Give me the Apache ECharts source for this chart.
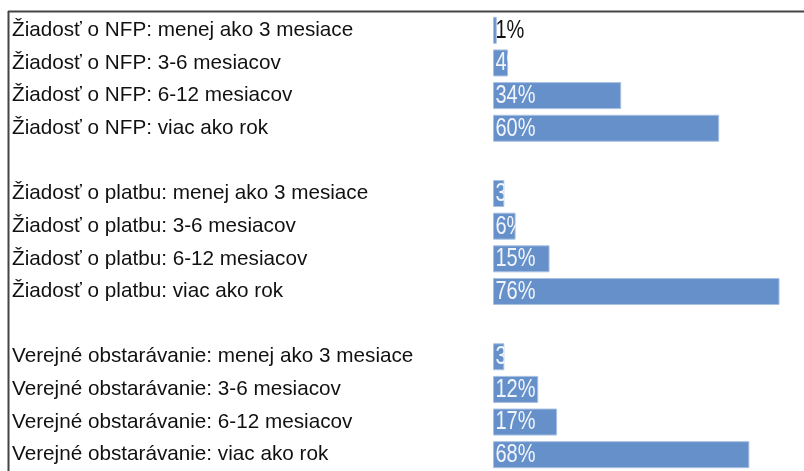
<!DOCTYPE html>
<html><head><meta charset="utf-8">
<script src="https://cdn.jsdelivr.net/npm/echarts@6/dist/echarts.min.js"></script>
<style>html,body{margin:0;padding:0;background:#fff}#c{width:804px;height:471px}</style>
</head><body><div id="c"></div>
<script>
const categories = [
  'Žiadosť o NFP: menej ako 3 mesiace',
  'Žiadosť o NFP: 3-6 mesiacov',
  'Žiadosť o NFP: 6-12 mesiacov',
  'Žiadosť o NFP: viac ako rok',
  '',
  'Žiadosť o platbu: menej ako 3 mesiace',
  'Žiadosť o platbu: 3-6 mesiacov',
  'Žiadosť o platbu: 6-12 mesiacov',
  'Žiadosť o platbu: viac ako rok',
  ' ',
  'Verejné obstarávanie: menej ako 3 mesiace',
  'Verejné obstarávanie: 3-6 mesiacov',
  'Verejné obstarávanie: 6-12 mesiacov',
  'Verejné obstarávanie: viac ako rok'
];
const values = [1, 4, 34, 60, null, 3, 6, 15, 76, null, 3, 12, 17, 68];
const outsideLabelIndex = [0];

const chart = echarts.init(document.getElementById('c'), null, {renderer: 'canvas'});
const FAMILY = '"Liberation Sans", Arial, sans-serif';
const BAR_H = 27;
const LABEL_SX = 0.8;
const LABEL_PAD = 2.5;

const labelData = [];
values.forEach((v, i) => { if (v !== null) labelData.push([v, i]); });

const option = {
  animation: false,
  grid: {left: 493, right: 9.4, top: 14, bottom: -5, containLabel: false},
  xAxis: {type: 'value', min: 0, max: 80, show: false},
  yAxis: {
    type: 'category', data: categories, inverse: true,
    axisLine: {show: false}, axisTick: {show: false}, splitLine: {show: false},
    axisLabel: {
      align: 'left', margin: 481, color: '#111',
      fontFamily: FAMILY, fontSize: 20.7
    }
  },
  series: [{
    type: 'bar', barWidth: BAR_H, z: 2,
    data: values.map(v => v === null ? '-' : v),
    itemStyle: {color: '#6690c9', borderColor: '#a9c1e3', borderWidth: 1},
    label: {show: false}
  }, {
    type: 'custom', z: 5,
    data: labelData,
    encode: {x: 0, y: 1},
    clip: false,
    renderItem: function (params, api) {
      const v = api.value(0);
      const idx = api.value(1);
      const start = api.coord([0, idx]);
      const end = api.coord([v, idx]);
      const outside = outsideLabelIndex.indexOf(idx) >= 0;
      const el = {
        type: 'text',
        x: start[0] + LABEL_PAD,
        y: start[1] + 0.5,
        scaleX: LABEL_SX,
        style: {
          text: v + '%',
          fill: outside ? '#111' : '#f1f5fb',
          fontSize: 25,
          fontFamily: FAMILY,
          align: 'left',
          verticalAlign: 'middle'
        }
      };
      if (!outside) {
        el.clipPath = {
          type: 'rect',
          shape: {
            x: -LABEL_PAD / LABEL_SX,
            y: -BAR_H / 2 - 0.5,
            width: (end[0] - start[0]) / LABEL_SX,
            height: BAR_H
          }
        };
      }
      return el;
    }
  }],
  graphic: [
    {type: 'line', shape: {x1: 8, y1: 11.5, x2: 804, y2: 11.5}, style: {stroke: '#444', lineWidth: 2}},
    {type: 'line', shape: {x1: 8.5, y1: 11, x2: 8.5, y2: 471}, style: {stroke: '#444', lineWidth: 2}}
  ]
};
chart.setOption(option);
</script></body></html>
